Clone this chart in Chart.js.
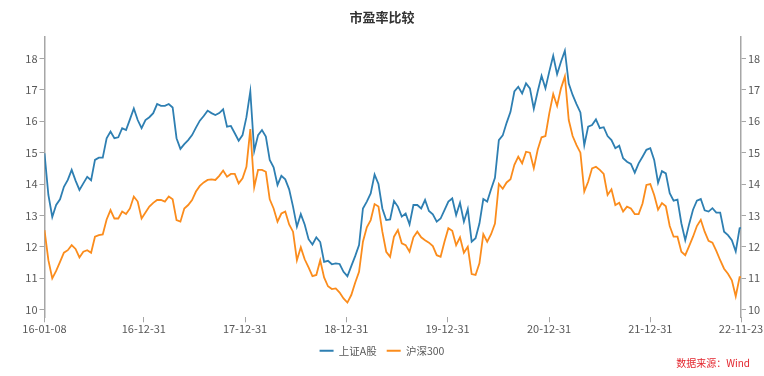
<!DOCTYPE html>
<html>
<head>
<meta charset="utf-8">
<script src="https://cdn.jsdelivr.net/npm/chart.js@4.4.1/dist/chart.umd.min.js"></script>
<style>
  html, body { margin: 0; padding: 0; background: #ffffff; }
  #wrap { position: relative; width: 764px; height: 376px; }
  #source { position: absolute; right: 14px; top: 355px; font: 10px 'Noto Sans CJK SC', sans-serif; color: #e3262e; white-space: pre; }
</style>
</head>
<body>
<div id="wrap">
  <canvas id="c" width="764" height="376"></canvas>
  <div id="source">数据来源：Wind</div>
</div>
<script>
// ---- data (biweekly samples from 2016-01-08, last value at 2022-11-23) ----
const startDate = '2016-01-08';
const endDate = '2022-11-23';
const sampleStepDays = 14;
const seriesNames = ['上证A股', '沪深300'];

const shA = [
  14.98,13.65,12.95,13.33,13.51,13.91,14.13,14.45,14.11,13.81,
  14.02,14.23,14.12,14.77,14.84,14.84,15.46,15.67,15.46,15.49,
  15.78,15.72,16.06,16.41,16.04,15.78,16.04,16.13,16.26,16.55,
  16.49,16.49,16.55,16.44,15.46,15.12,15.27,15.40,15.56,15.80,
  16.02,16.17,16.34,16.26,16.20,16.26,16.38,15.83,15.85,15.62,
  15.38,15.56,16.13,16.95,15.05,15.56,15.72,15.51,14.77,14.53,
  13.97,14.26,14.15,13.83,13.28,12.64,13.04,12.71,12.24,12.07,
  12.30,12.15,11.52,11.55,11.44,11.47,11.45,11.20,11.06,11.38,
  11.70,12.05,13.22,13.44,13.70,14.30,14.00,13.22,12.85,12.87,
  13.46,13.28,12.96,13.06,12.71,13.33,13.33,13.22,13.49,13.14,
  13.03,12.80,12.90,13.17,13.44,13.54,13.01,13.40,12.80,13.20,
  12.16,12.27,12.74,13.52,13.44,13.83,14.20,15.40,15.55,15.95,
  16.30,16.95,17.10,16.89,17.21,17.05,16.40,16.95,17.45,17.05,
  17.59,18.09,17.50,17.90,18.25,17.20,16.84,16.55,16.28,15.24,
  15.83,15.88,16.06,15.78,15.81,15.53,15.40,15.14,15.22,14.82,
  14.71,14.64,14.36,14.66,14.87,15.09,15.14,14.77,14.04,14.41,
  14.34,13.71,13.47,13.50,12.75,12.21,12.72,13.18,13.47,13.52,
  13.16,13.12,13.23,13.09,13.09,12.48,12.37,12.21,11.85,12.59,
  12.60
];

const hs300 = [
  12.53,11.57,10.99,11.23,11.52,11.81,11.89,12.05,11.93,11.66,
  11.84,11.89,11.81,12.32,12.37,12.39,12.87,13.17,12.90,12.90,
  13.12,13.04,13.22,13.60,13.44,12.90,13.09,13.28,13.40,13.49,
  13.49,13.44,13.60,13.51,12.85,12.80,13.22,13.33,13.49,13.76,
  13.94,14.05,14.13,14.15,14.13,14.26,14.43,14.23,14.32,14.32,
  14.02,14.18,14.55,15.75,13.90,14.45,14.45,14.39,13.51,13.22,
  12.80,13.06,13.12,12.71,12.48,11.57,11.98,11.60,11.34,11.06,
  11.10,11.57,11.02,10.74,10.65,10.67,10.54,10.35,10.22,10.46,
  10.85,11.20,12.16,12.62,12.85,13.36,13.28,12.48,11.84,11.68,
  12.32,12.53,12.11,12.05,11.84,12.30,12.48,12.30,12.21,12.13,
  12.02,11.73,11.68,12.16,12.59,12.51,12.05,12.30,11.81,12.00,
  11.13,11.10,11.47,12.40,12.16,12.40,12.74,14.00,13.85,14.05,
  14.15,14.61,14.87,14.66,15.03,15.00,14.50,15.09,15.49,15.53,
  16.26,16.87,16.49,17.05,17.43,16.04,15.53,15.24,15.00,13.76,
  14.07,14.50,14.55,14.45,14.32,13.65,13.83,13.33,13.40,13.12,
  13.28,13.22,13.04,13.04,13.38,13.97,14.00,13.65,13.18,13.39,
  13.29,12.66,12.32,12.32,11.84,11.73,12.02,12.32,12.66,12.86,
  12.48,12.19,12.13,11.87,11.57,11.30,11.14,10.93,10.42,11.03,
  11.03
];

const xTickDates = ['2016-01-08','2016-12-31','2017-12-31','2018-12-31','2019-12-31','2020-12-31','2021-12-31','2022-11-23'];
const xTickLabels = ['16-01-08','16-12-31','17-12-31','18-12-31','19-12-31','20-12-31','21-12-31','22-11-23'];
const yTickValues = [10, 11, 12, 13, 14, 15, 16, 17, 18];
const yMin = 9.75, yMax = 18.7;

// ---- helpers ----
const DAY = 86400000;
function dayOffset(d) { return Math.round((Date.parse(d + 'T00:00:00Z') - Date.parse(startDate + 'T00:00:00Z')) / DAY); }
const totalDays = dayOffset(endDate);
function toPoints(vals) {
  return vals.map((v, i) => ({ x: i === vals.length - 1 ? totalDays : i * sampleStepDays, y: v }));
}
const xTickDays = xTickDates.map(dayOffset);
const labelByDay = {};
xTickDays.forEach((d, i) => { labelByDay[d] = xTickLabels[i]; });

const FONT = "'Noto Sans CJK SC', 'Noto Sans', sans-serif";
const axisColor = '#a6a6a6';
const tickColor = '#595959';

function yAxis(pos, width) {
  return {
    type: 'linear', position: pos, min: yMin, max: yMax,
    afterBuildTicks: s => { s.ticks = yTickValues.map(v => ({ value: v })); },
    afterFit: s => { s.width = width; },
    ticks: { color: tickColor, font: { family: FONT, size: 11 }, padding: 2 },
    grid: { drawOnChartArea: false, drawTicks: true, tickLength: 5, color: axisColor, lineWidth: 1 },
    border: { display: true, color: axisColor, width: 1.5 }
  };
}

new Chart(document.getElementById('c'), {
  type: 'line',
  data: {
    datasets: [
      { label: seriesNames[0], data: toPoints(shA), borderColor: '#2e7fb2', backgroundColor: '#2e7fb2',
        borderWidth: 1.8, pointRadius: 0, tension: 0, pointStyle: 'line', yAxisID: 'y' },
      { label: seriesNames[1], data: toPoints(hs300), borderColor: '#fb8c1c', backgroundColor: '#fb8c1c',
        borderWidth: 1.8, pointRadius: 0, tension: 0, pointStyle: 'line', yAxisID: 'y' }
    ]
  },
  options: {
    responsive: false,
    animation: false,
    layout: { padding: { left: 0, right: 0, top: 0, bottom: 10 } },
    plugins: {
      title: { display: true, text: '市盈率比较', color: '#333333',
        font: { family: FONT, size: 13, weight: 'bold' }, padding: { top: 9, bottom: 12 } },
      legend: { position: 'bottom',
        labels: { usePointStyle: true, pointStyleWidth: 14, color: tickColor,
          font: { family: FONT, size: 10.5 }, padding: 10 } },
      tooltip: { enabled: false }
    },
    scales: {
      x: {
        type: 'linear', min: 0, max: totalDays,
        afterBuildTicks: s => { s.ticks = xTickDays.map(v => ({ value: v })); },
        ticks: { autoSkip: false, maxRotation: 0, color: tickColor, font: { family: FONT, size: 11 }, padding: 0,
          callback: v => labelByDay[v] || '' },
        grid: { drawOnChartArea: false, drawTicks: true, tickLength: 5, color: axisColor },
        border: { display: false }
      },
      y: yAxis('left', 44.5),
      y2: yAxis('right', 23)
    }
  }
});
</script>
</body>
</html>
